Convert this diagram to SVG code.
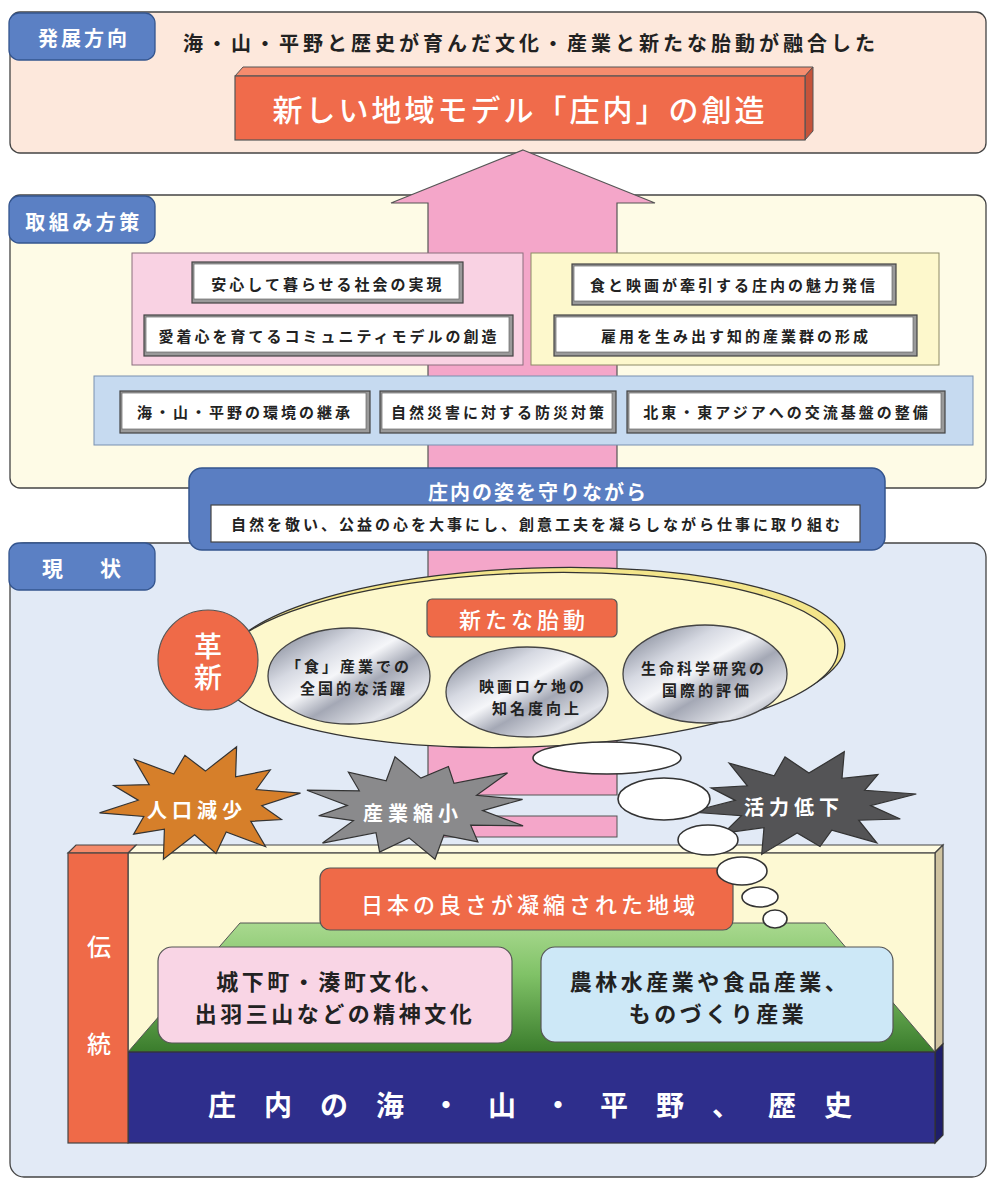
<svg xmlns="http://www.w3.org/2000/svg" width="988" height="1180" viewBox="0 0 988 1180">
<defs>
<style>
.t{font-family:"Noto Sans CJK JP","Noto Sans CJK SC",sans-serif;dominant-baseline:central;text-anchor:middle;}
.w{fill:#fff;}
.d{fill:#222;}
.b{font-weight:bold;}
.m{font-weight:500;}
.panel{stroke:#444;stroke-width:1.3;}
.tab{fill:#5b80c4;stroke:#34558f;stroke-width:1.3;}
.bxo{fill:#9a9a9a;stroke:#444;stroke-width:1.2;}
.bxi{fill:#fff;stroke:#666;stroke-width:0.7;}
.org{fill:#ef6a48;stroke:#555;stroke-width:1.2;}
.met{fill:url(#metal);stroke:#444;stroke-width:1.3;}
.bub{fill:#fff;stroke:#333;stroke-width:1.6;}
.star{stroke:#333;stroke-width:1.2;}
</style>
<linearGradient id="metal" x1="0" y1="0" x2="1" y2="1">
<stop offset="0" stop-color="#6c7282"/>
<stop offset="0.3" stop-color="#d6d9e2"/>
<stop offset="0.45" stop-color="#f5f6f9"/>
<stop offset="0.6" stop-color="#a4a8b5"/>
<stop offset="0.8" stop-color="#e2e4ea"/>
<stop offset="1" stop-color="#747988"/>
</linearGradient>
<linearGradient id="green" x1="0" y1="0" x2="0" y2="1">
<stop offset="0" stop-color="#a9d98f"/>
<stop offset="0.4" stop-color="#80c267"/>
<stop offset="1" stop-color="#3a7c2c"/>
</linearGradient>
</defs>

<!-- section panels -->
<g id="panel-direction">
<rect class="panel" x="10" y="12" width="976" height="141" rx="10" fill="#fde8dc"/>
</g>
<g id="panel-measures">
<rect class="panel" x="10" y="195" width="976" height="293" rx="10" fill="#fefbe6"/>
</g>
<g id="panel-current">
<rect class="panel" x="10" y="543" width="976" height="634" rx="14" fill="#e2eaf6"/>
</g>

<!-- connector: big pink arrow -->
<g id="connectors">
<polygon points="523,150 655,203 617,203 617,795 428,795 428,203 391,203" fill="#f4a6c9" stroke="#555" stroke-width="1.2"/>
<rect x="428" y="816" width="189" height="21" fill="#f4a6c9" stroke="#555" stroke-width="1"/>
</g>

<!-- panel 1 content -->
<g id="tab-direction">
<rect class="tab" x="9" y="13" width="146" height="47" rx="10"/>
<text class="t w b" x="84" y="37" font-size="20" letter-spacing="3">発展方向</text>
</g>
<g id="direction-heading">
<text class="t d b" x="183" y="42" font-size="20" letter-spacing="4" style="text-anchor:start">海・山・平野と歴史が育んだ文化・産業と新たな胎動が融合した</text>
</g>
<g id="node-goal">
<polygon points="235,76 243,67 813,67 805,76" fill="#f58c6e" stroke="#555" stroke-width="1"/>
<polygon points="805,76 813,67 813,131 805,140" fill="#c5533a" stroke="#555" stroke-width="1"/>
<rect x="235" y="76" width="570" height="64" fill="#f06b4b" stroke="#555" stroke-width="1.2"/>
<text class="t w m" x="520" y="108" font-size="30" letter-spacing="3">新しい地域モデル「庄内」の創造</text>
</g>

<!-- panel 2 content -->
<g id="tab-measures">
<rect class="tab" x="9" y="196" width="146" height="47" rx="10"/>
<text class="t w b" x="84" y="221" font-size="20" letter-spacing="3.5">取組み方策</text>
</g>
<g id="group-pink">
<rect x="132" y="253" width="391" height="112" fill="#f9d2e3" stroke="#8a6f7c" stroke-width="1"/>
</g>
<g id="group-yellow">
<rect x="531" y="253" width="408" height="112" fill="#fdf8cc" stroke="#8c8a66" stroke-width="1"/>
</g>
<g id="group-blue">
<rect x="94" y="376" width="879" height="69" fill="#c6daf0" stroke="#7890b0" stroke-width="1"/>
</g>
<g id="node-anshin">
<rect class="bxo" x="192" y="262" width="271" height="41"/>
<rect class="bxi" x="194" y="264" width="265" height="35"/>
<text class="t d b" x="328" y="283" font-size="15" letter-spacing="3">安心して暮らせる社会の実現</text>
</g>
<g id="node-aichaku">
<rect class="bxo" x="144" y="315" width="369" height="41"/>
<rect class="bxi" x="146" y="317" width="363" height="35"/>
<text class="t d b" x="329" y="335" font-size="15" letter-spacing="3">愛着心を育てるコミュニティモデルの創造</text>
</g>
<g id="node-shoku">
<rect class="bxo" x="572" y="264" width="324" height="41"/>
<rect class="bxi" x="574" y="266" width="318" height="35"/>
<text class="t d b" x="734" y="284" font-size="15" letter-spacing="3">食と映画が牽引する庄内の魅力発信</text>
</g>
<g id="node-koyou">
<rect class="bxo" x="554" y="315" width="363" height="41"/>
<rect class="bxi" x="556" y="317" width="357" height="35"/>
<text class="t d b" x="736" y="335" font-size="15" letter-spacing="3">雇用を生み出す知的産業群の形成</text>
</g>
<g id="node-kankyou">
<rect class="bxo" x="120" y="391" width="250" height="42"/>
<rect class="bxi" x="122" y="393" width="244" height="36"/>
<text class="t d b" x="245" y="411" font-size="15" letter-spacing="3">海・山・平野の環境の継承</text>
</g>
<g id="node-bousai">
<rect class="bxo" x="380" y="391" width="236" height="42"/>
<rect class="bxi" x="382" y="393" width="230" height="36"/>
<text class="t d b" x="499" y="411" font-size="15" letter-spacing="3">自然災害に対する防災対策</text>
</g>
<g id="node-kouryu">
<rect class="bxo" x="627" y="391" width="318" height="42"/>
<rect class="bxi" x="629" y="393" width="312" height="36"/>
<text class="t d b" x="787" y="411" font-size="15" letter-spacing="3">北東・東アジアへの交流基盤の整備</text>
</g>

<!-- principle box -->
<g id="node-principle">
<rect x="189" y="468" width="696" height="82" rx="13" fill="#5a7ec2" stroke="#34558f" stroke-width="1.5"/>
<text class="t w b" x="538" y="491" font-size="20" letter-spacing="2">庄内の姿を守りながら</text>
<rect x="211" y="505" width="649" height="37" fill="#fff" stroke="#444" stroke-width="1.2"/>
<text class="t d b" x="537" y="523" font-size="15" letter-spacing="3">自然を敬い、公益の心を大事にし、創意工夫を凝らしながら仕事に取り組む</text>
</g>

<!-- panel 3 content -->
<g id="tab-current">
<rect class="tab" x="9" y="543" width="146" height="47" rx="10"/>
<text class="t w b" x="42" y="567" font-size="21" letter-spacing="37" style="text-anchor:start">現状</text>
</g>

<g id="node-new-movement">
<ellipse cx="535" cy="655" rx="310" ry="87" transform="rotate(-2 535 655)" fill="#f3e58a" stroke="#333" stroke-width="1.3"/>
<ellipse cx="528" cy="660" rx="310" ry="87" transform="rotate(-2 528 660)" fill="#fdf8cc" stroke="#333" stroke-width="1.3"/>
<rect class="org" x="427" y="599" width="190" height="38" rx="5"/>
<text class="t w m" x="524" y="618" font-size="22" letter-spacing="4">新たな胎動</text>
</g>
<g id="node-kakushin">
<circle class="org" cx="208" cy="660" r="50"/>
<text class="t w m" x="208" y="663" font-size="28" letter-spacing="3" style="writing-mode:vertical-rl">革新</text>
</g>
<g id="node-food">
<ellipse class="met" cx="349" cy="676" rx="81" ry="48"/>
<text class="t d b" font-size="15" letter-spacing="3"><tspan x="349" y="665">「食」産業での</tspan><tspan x="354" y="687">全国的な活躍</tspan></text>
</g>
<g id="node-film">
<ellipse class="met" cx="527" cy="692" rx="81" ry="45"/>
<text class="t d b" font-size="15" letter-spacing="3"><tspan x="533" y="685">映画ロケ地の</tspan><tspan x="537" y="707">知名度向上</tspan></text>
</g>
<g id="node-life">
<ellipse class="met" cx="705" cy="674" rx="82" ry="49"/>
<text class="t d b" font-size="15" letter-spacing="3"><tspan x="704" y="667">生命科学研究の</tspan><tspan x="707" y="689">国際的評価</tspan></text>
</g>

<!-- tradition block -->
<g id="node-base">
<polygon points="128,853 136,845 943,845 935,853" fill="#fefbe0" stroke="#444" stroke-width="1.2"/>
<polygon points="935,853 943,845 943,1044 935,1052" fill="#cfc3a0" stroke="#444" stroke-width="1.2"/>
<polygon points="935,1052 943,1044 943,1135 935,1143" fill="#1e1e6a" stroke="#333" stroke-width="1.2"/>
<rect x="128" y="853" width="807" height="199" fill="#fdf9d3" stroke="#444" stroke-width="1.2"/>
<polygon points="240,923 825,923 935,1052 128,1052" fill="url(#green)" stroke="#555" stroke-width="1"/>
<rect x="128" y="1052" width="807" height="91" fill="#2e2e8c" stroke="#333" stroke-width="1.2"/>
<text class="t w b" x="208" y="1104" font-size="28" letter-spacing="28" style="text-anchor:start">庄内の海・山・平野、歴史</text>
</g>
<g id="node-dentou">
<polygon points="68,853 76,845 136,845 128,853" fill="#f48a6a" stroke="#444" stroke-width="1.2"/>
<rect x="68" y="853" width="60" height="290" fill="#ef6a48" stroke="#444" stroke-width="1.2"/>
<text class="t w m" x="99" y="945" font-size="24">伝</text>
<text class="t w m" x="99" y="1042" font-size="24">統</text>
</g>
<g id="node-nihon">
<rect class="org" x="320" y="868" width="413" height="62" rx="10"/>
<text class="t w m" x="530" y="903" font-size="22" letter-spacing="4">日本の良さが凝縮された地域</text>
</g>
<g id="node-culture">
<rect x="158" y="947" width="354" height="96" rx="14" fill="#f9d5e5" stroke="#555" stroke-width="1.2"/>
<text class="t d b" font-size="22" letter-spacing="3.5"><tspan x="331" y="980">城下町・湊町文化、</tspan><tspan x="335" y="1012">出羽三山などの精神文化</tspan></text>
</g>
<g id="node-industry">
<rect x="541" y="947" width="352" height="95" rx="14" fill="#cde8f7" stroke="#555" stroke-width="1.2"/>
<text class="t d b" font-size="22" letter-spacing="3.5"><tspan x="710" y="980">農林水産業や食品産業、</tspan><tspan x="718" y="1012">ものづくり産業</tspan></text>
</g>

<!-- problems -->
<g id="node-population">
<polygon class="star" fill="#d67f2a" points="300.5,793.1 261.8,805.8 281.5,819.6 250.8,821.4 265.6,846.7 226.2,832 216,853.5 194.6,834.9 163.4,859.3 164.4,829.2 133.6,834.2 143.8,816.5 99.5,812.9 138.2,800.2 113.7,785.5 149.2,784.6 134.4,759.3 173.8,774 184.9,755.3 205.4,771.1 236.6,746.7 235.6,776.8 270.3,770 256.2,789.5"/>
<text class="t w b" x="197" y="809" font-size="20" letter-spacing="5">人口減少</text>
</g>
<g id="node-industry-shrink">
<polygon class="star" fill="#8a8a8c" points="522.6,799.4 482.7,810.6 523.1,825.8 470.7,825.2 477.9,841.9 443.8,835.2 435,859.2 409.1,837.9 379.6,852 376,832.6 322.5,843.1 353.4,820.7 318.7,815.7 347.3,805.4 306.9,790.2 359.3,790.8 348.4,772.2 386.2,780.8 395,756.8 420.9,778.1 448.4,766.5 454,783.4 507.5,772.9 476.6,795.3"/>
<text class="t w b" x="413" y="812" font-size="20" letter-spacing="5">産業縮小</text>
</g>
<g id="node-vitality">
<polygon class="star" fill="#545456" points="916.3,794 870.7,805.6 900.3,819 858.7,820.2 876.9,842.8 831.8,830.2 820,846.5 797.1,832.9 761.7,854.3 764,827.6 723.7,833.1 741.4,815.7 689.7,812 735.3,800.4 711.1,787.9 747.3,785.8 729.1,763.2 774.2,775.8 785,756.9 808.9,773.1 844.3,751.7 842,778.4 877.9,774.6 864.6,790.3"/>
<text class="t w b" x="794" y="806" font-size="20" letter-spacing="5">活力低下</text>
</g>
<g id="thought-bubbles">
<ellipse class="bub" cx="607" cy="758" rx="74" ry="16"/>
<ellipse class="bub" cx="664" cy="799" rx="46" ry="21"/>
<ellipse class="bub" cx="708" cy="840" rx="30" ry="15"/>
<ellipse class="bub" cx="742" cy="871" rx="25" ry="14"/>
<ellipse class="bub" cx="760" cy="897" rx="18" ry="10"/>
<ellipse class="bub" cx="775" cy="919" rx="12" ry="9"/>
</g>
</svg>
